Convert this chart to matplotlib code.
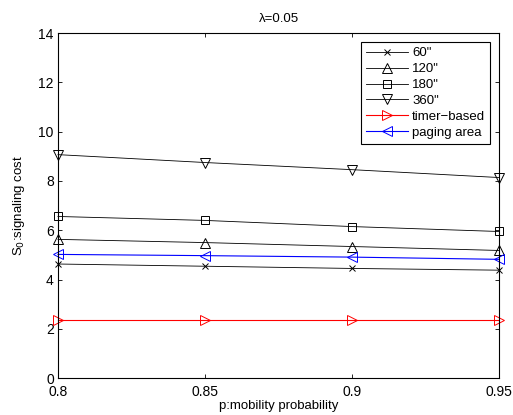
import numpy as np
import matplotlib
matplotlib.use('Agg')
import matplotlib.pyplot as plt

plt.rcParams['font.family'] = ['Liberation Sans', 'DejaVu Sans']

# mobility probability
p = [0.8, 0.85, 0.9, 0.95]

# signaling cost per curve
cost_60 = [4.63, 4.54, 4.45, 4.38]
cost_120 = [5.63, 5.50, 5.34, 5.18]
cost_180 = [6.56, 6.40, 6.15, 5.95]
cost_360 = [9.07, 8.75, 8.46, 8.14]
cost_timer = [2.35, 2.35, 2.35, 2.35]
cost_paging = [5.02, 4.97, 4.91, 4.82]

labels = ['60"', '120"', '180"', '360"', 'timer\u2212based', 'paging area']

fig = plt.figure(figsize=(5.13, 4.15), dpi=100)
ax = fig.add_axes([0.113, 0.089, 0.860, 0.831])

ms = 7
kw = dict(mfc='none', mew=0.7, clip_on=False)
ax.plot(p, cost_60, color='k', marker='x', ms=4.5, lw=0.6, label=labels[0], **kw)
ax.plot(p, cost_120, color='k', marker='^', ms=ms, lw=0.6, label=labels[1], **kw)
ax.plot(p, cost_180, color='k', marker='s', ms=5.5, lw=0.6, label=labels[2], **kw)
ax.plot(p, cost_360, color='k', marker='v', ms=ms, lw=0.6, label=labels[3], **kw)
ax.plot(p, cost_timer, color='r', marker='>', ms=ms, lw=0.8, label=labels[4], **kw)
ax.plot(p, cost_paging, color='b', marker='<', ms=ms, lw=0.8, label=labels[5], **kw)

ax.set_xlim(0.8, 0.95)
ax.set_ylim(0, 14)
ax.set_xticks(p)
ax.set_xticklabels(['0.8', '0.85', '0.9', '0.95'])
ax.set_yticks(np.arange(0, 15, 2))
ax.tick_params(direction='in', top=True, right=True, labelsize=10, length=3, width=0.6)
ax.tick_params(axis='x', pad=5)
ax.tick_params(axis='y', pad=3)
for s in ax.spines.values():
    s.set_linewidth(0.8)

ax.set_xlabel('p:mobility probability', fontsize=9.5, labelpad=1)
ax.set_ylabel('S$_0$:signaling cost', fontsize=9.5, labelpad=8)
ax.set_title('\u03bb=0.05', fontsize=9.5, pad=8)

leg = ax.legend(loc='upper right', fontsize=9.5, fancybox=False, framealpha=1,
                edgecolor='k', borderaxespad=0.7, handlelength=3.2,
                labelspacing=0.28, borderpad=0.35, handletextpad=0.3)
leg.get_frame().set_linewidth(0.8)

fig.savefig('out.png', dpi=100)
